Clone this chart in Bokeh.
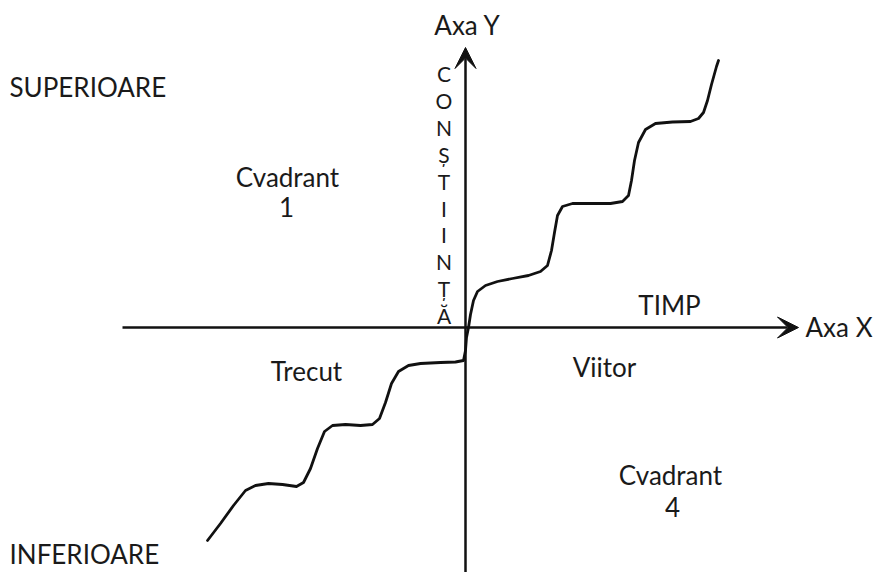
from bokeh.plotting import figure
from bokeh.models import Range1d, Arrow, VeeHead, ColumnDataSource
from bokeh.core.properties import value
from bokeh.embed import file_html
from bokeh.resources import INLINE

# ---- data (origin at the axes' crossing) ----
curve_x = [-258, -245, -232, -220, -210, -197, -183, -169, -162, -155, -148, -141, -133, -120,
           -105, -93, -86, -80, -74, -67, -57, -45, -25, -10, -2, 0, 1, 3, 5, 8, 12, 20, 32, 47,
           63, 75, 82, 86, 89, 92, 97, 107, 125, 145, 157, 163, 166, 169, 173, 180, 190, 207,
           225, 233, 238, 242, 246, 251, 253]
curve_y = [-213, -196, -178, -163, -158, -156, -157, -159, -155, -141, -121, -104, -98, -97,
           -98, -97, -91, -75, -56, -44, -38, -36, -35, -34.5, -33, -23, -10, 0, 13, 27, 36, 42,
           46, 49, 52, 56, 62, 77, 95, 112, 121, 124, 124, 124, 126, 132, 147, 167, 185, 198,
           204, 205.5, 206, 209, 215, 227, 243, 261, 267]

x_axis_span = [-343, 333]
y_axis_span = [-250, 280]

center_labels = ["Axa Y", "Cvadrant", "1", "TIMP", "Trecut", "Viitor", "Cvadrant", "4"]
center_x = [2, -178, -179, 204, -159, 139, 205, 207]
center_y = [303, 151, 121, 23, -43, -39, -147, -179]

left_labels = ["SUPERIOARE", "Axa X", "INFERIOARE"]
left_x = [-456, 340, -456]
left_y = [241, 1, -226]

vertical_word = "CONȘTIINȚĂ"
vertical_x = -21.5
vertical_top = 254
vertical_step = 26.9

# ---- figure ----
W, H = 876, 572
p = figure(width=W, height=H, output_backend="svg", toolbar_location=None,
           x_range=Range1d(-465, 411), y_range=Range1d(-245, 327),
           min_border=0, outline_line_color=None, background_fill_color="white",
           border_fill_color="white")
p.axis.visible = False
p.grid.visible = False

font = value("Lato")

# axes with arrow heads
p.add_layout(Arrow(x_start=x_axis_span[0], y_start=0, x_end=x_axis_span[1], y_end=0,
                   line_width=2.5, line_color="#111111",
                   end=VeeHead(size=21, fill_color="#111111", line_color="#111111", line_width=1)))
p.add_layout(Arrow(x_start=0, y_start=y_axis_span[0], x_end=0, y_end=y_axis_span[1],
                   line_width=2.5, line_color="#111111",
                   end=VeeHead(size=21, fill_color="#111111", line_color="#111111", line_width=1)))

# curve
p.line(curve_x, curve_y, line_width=2.8, line_color="#111111",
       line_join="round", line_cap="round")

# labels
p.text(x=center_x, y=center_y, text=center_labels, text_font=font, text_font_size="26px",
       text_align="center", text_baseline="alphabetic", text_color="#1a1a1a")
p.text(x=left_x, y=left_y, text=left_labels, text_font=font, text_font_size="26px",
       text_align="left", text_baseline="alphabetic", text_color="#1a1a1a")

letters = list(vertical_word)
vsrc = ColumnDataSource(dict(
    x=[vertical_x] * len(letters),
    y=[vertical_top - i * vertical_step for i in range(len(letters))],
    t=letters))
p.text(x="x", y="y", text="t", source=vsrc, text_font=font, text_font_size="21px",
       text_align="center", text_baseline="alphabetic", text_color="#1a1a1a")

open("out.html", "w").write(file_html(p, INLINE))
